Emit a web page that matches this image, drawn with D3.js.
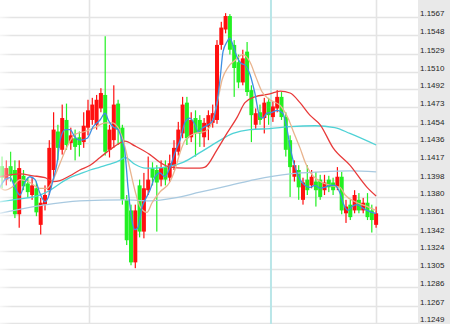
<!DOCTYPE html>
<html><head><meta charset="utf-8">
<script src="https://cdn.jsdelivr.net/npm/d3@7"></script>
<style>html,body{margin:0;padding:0;background:#fff;overflow:hidden}</style>
</head><body><svg id="c" width="450" height="324"></svg>
<script>
const open = [1.1412,1.1398,1.1412,1.1408,1.1362,1.1402,1.1394,1.1382,1.1389,1.1351,
1.1372,1.1387,1.1408,1.1448,1.1429,1.1460,1.1436,1.1441,1.1442,1.1437,
1.1452,1.1460,1.1455,1.1472,1.1486,1.1429,1.1439,1.1477,1.1452,1.1377,
1.1366,1.1312,1.1392,1.1344,1.1387,1.1410,1.1408,1.1398,1.1411,1.1400,
1.1412,1.1427,1.1446,1.1478,1.1442,1.1462,1.1460,1.1442,1.1453,1.1457,
1.1460,1.1538,1.1554,1.1568,1.1538,1.1520,1.1499,1.1531,1.1491,1.1455,
1.1468,1.1462,1.1479,1.1463,1.1472,1.1484,1.1463,1.1439,1.1401,1.1408,
1.1377,1.1398,1.1392,1.1396,1.1398,1.1387,1.1398,1.1395,1.1390,1.1401,
1.1363,1.1372,1.1366,1.1377,1.1366,1.1374,1.1366,1.1351];
const close = [1.1400,1.1410,1.1402,1.1362,1.1410,1.1391,1.1385,1.1392,1.1364,1.1374,
1.1382,1.1431,1.1450,1.1431,1.1462,1.1434,1.1444,1.1432,1.1434,1.1454,
1.1470,1.1476,1.1481,1.1488,1.1427,1.1450,1.1476,1.1450,1.1377,1.1335,
1.1312,1.1366,1.1344,1.1389,1.1398,1.1400,1.1395,1.1410,1.1398,1.1415,
1.1431,1.1450,1.1476,1.1441,1.1460,1.1446,1.1446,1.1457,1.1465,1.1467,
1.1538,1.1556,1.1568,1.1533,1.1514,1.1499,1.1524,1.1489,1.1465,1.1467,
1.1460,1.1478,1.1465,1.1474,1.1484,1.1463,1.1429,1.1411,1.1413,1.1390,
1.1395,1.1387,1.1401,1.1387,1.1380,1.1395,1.1390,1.1387,1.1401,1.1366,
1.1370,1.1359,1.1382,1.1366,1.1374,1.1359,1.1356,1.1363];
const high = [1.1422,1.1418,1.1427,1.1418,1.1418,1.1408,1.1400,1.1400,1.1396,1.1379,
1.1392,1.1439,1.1468,1.1455,1.1476,1.1477,1.1452,1.1450,1.1448,1.1468,
1.1481,1.1483,1.1486,1.1493,1.1547,1.1455,1.1496,1.1481,1.1455,1.1382,
1.1372,1.1372,1.1398,1.1405,1.1422,1.1416,1.1413,1.1418,1.1418,1.1424,
1.1439,1.1458,1.1484,1.1484,1.1468,1.1470,1.1465,1.1462,1.1470,1.1476,
1.1543,1.1562,1.1571,1.1570,1.1543,1.1528,1.1533,1.1541,1.1496,1.1472,
1.1476,1.1483,1.1483,1.1479,1.1491,1.1489,1.1468,1.1444,1.1418,1.1413,
1.1400,1.1413,1.1408,1.1406,1.1403,1.1403,1.1402,1.1400,1.1411,1.1406,
1.1377,1.1377,1.1387,1.1384,1.1379,1.1384,1.1372,1.1370];
const low = [1.1389,1.1392,1.1396,1.1358,1.1348,1.1387,1.1379,1.1377,1.1360,1.1341,
1.1366,1.1382,1.1398,1.1418,1.1424,1.1429,1.1429,1.1418,1.1422,1.1431,
1.1444,1.1455,1.1450,1.1468,1.1423,1.1421,1.1431,1.1434,1.1372,1.1330,
1.1309,1.1306,1.1338,1.1337,1.1382,1.1392,1.1344,1.1391,1.1392,1.1396,
1.1408,1.1423,1.1441,1.1434,1.1437,1.1422,1.1432,1.1432,1.1439,1.1452,
1.1456,1.1533,1.1550,1.1528,1.1484,1.1493,1.1496,1.1485,1.1437,1.1450,
1.1455,1.1446,1.1455,1.1458,1.1468,1.1460,1.1422,1.1380,1.1396,1.1377,
1.1372,1.1382,1.1389,1.1370,1.1377,1.1382,1.1385,1.1382,1.1387,1.1362,
1.1353,1.1356,1.1363,1.1363,1.1363,1.1356,1.1343,1.1348];

const tickLabels = ["1.1567","1.1548","1.1529","1.1510","1.1492","1.1473","1.1454","1.1436","1.1417",
"1.1398","1.1380","1.1361","1.1342","1.1324","1.1305","1.1286","1.1267","1.1249"];

// moving averages: [bar index, price]
const maSlow = [[-0.5,1.1363],[8.8,1.1371],[18.1,1.1376],[28.6,1.1377],[34.4,1.1376],[40.2,1.1379],[46.0,1.1385],
[53.0,1.1392],[58.8,1.1398],[67.0,1.1404],[74.0,1.1406],[80.9,1.1407],[87.0,1.1406]];
const maCyan = [[-0.5,1.1375],[4.2,1.1378],[8.8,1.1382],[11.2,1.1387],[13.5,1.1394],[15.8,1.1400],[18.1,1.1404],
[20.5,1.1408],[22.8,1.1411],[25.1,1.1414],[27.4,1.1418],[28.6,1.1421],[30.9,1.1414],[33.3,1.1410],[35.6,1.1410],
[39.1,1.1412],[42.1,1.1416],[46.0,1.1426],[50.0,1.1437],[53.7,1.1446],[57.7,1.1450],[62.3,1.1451],[67.0,1.1453],
[72.8,1.1454],[77.4,1.1452],[80.9,1.1446],[87.0,1.1434]];
const maRed = [[-0.5,1.1401],[1.9,1.1403],[4.2,1.1404],[7.2,1.1402],[10.0,1.1400],[11.9,1.1396],[13.5,1.1397],
[15.8,1.1402],[18.1,1.1408],[20.5,1.1413],[22.8,1.1421],[25.1,1.1429],[27.4,1.1436],[28.6,1.1438],[30.9,1.1433],
[34.4,1.1424],[36.7,1.1416],[39.1,1.1411],[42.6,1.1410],[46.0,1.1410],[47.2,1.1411],[50.0,1.1429],[52.3,1.1446],
[54.7,1.1463],[56.5,1.1478],[58.8,1.1484],[62.3,1.1487],[64.7,1.1490],[67.0,1.1488],[69.3,1.1478],[71.6,1.1465],
[74.0,1.1455],[77.0,1.1431],[80.9,1.1413],[84.9,1.1390],[87.0,1.1381]];
const maTan = [[-0.5,1.1390],[0.7,1.1387],[2.3,1.1390],[4.2,1.1398],[6.5,1.1395],[8.8,1.1389],[10.5,1.1389],
[11.9,1.1398],[13.5,1.1415],[15.1,1.1432],[17.0,1.1445],[19.3,1.1448],[21.6,1.1452],[24.0,1.1457],[25.6,1.1457],
[27.0,1.1452],[28.6,1.1432],[29.8,1.1408],[30.9,1.1387],[32.1,1.1370],[33.7,1.1364],[34.9,1.1374],[36.7,1.1385],
[39.1,1.1396],[40.2,1.1408],[41.4,1.1426],[42.6,1.1439],[44.9,1.1446],[47.2,1.1448],[48.8,1.1457],[50.2,1.1481],
[51.2,1.1502],[52.6,1.1515],[54.2,1.1522],[56.0,1.1528],[57.7,1.1520],[59.1,1.1504],[60.5,1.1489],[62.3,1.1481],
[64.7,1.1475],[66.5,1.1462],[68.1,1.1444],[69.3,1.1431],[70.5,1.1416],[71.6,1.1406],[74.0,1.1396],[76.3,1.1392],
[78.6,1.1390],[79.8,1.1382],[82.1,1.1375],[84.4,1.1371],[87.0,1.1366]];
const maFast = [[-0.5,1.1390],[0.7,1.1398],[1.9,1.1400],[3.0,1.1390],[4.2,1.1382],[5.3,1.1395],[6.5,1.1401],
[7.7,1.1398],[8.8,1.1384],[10.0,1.1375],[10.7,1.1379],[11.9,1.1398],[12.8,1.1415],[13.5,1.1439],[14.7,1.1450],
[15.8,1.1450],[17.0,1.1442],[18.1,1.1439],[19.8,1.1441],[21.2,1.1453],[22.8,1.1460],[24.0,1.1467],[24.7,1.1460],
[25.8,1.1453],[27.0,1.1450],[27.9,1.1439],[28.6,1.1426],[29.3,1.1390],[30.2,1.1356],[30.9,1.1346],[31.6,1.1348],
[32.6,1.1370],[33.3,1.1377],[34.4,1.1387],[35.6,1.1401],[36.7,1.1405],[37.9,1.1401],[39.1,1.1411],[40.2,1.1426],
[41.4,1.1439],[42.6,1.1458],[43.7,1.1462],[44.9,1.1455],[45.6,1.1448],[46.7,1.1452],[47.9,1.1455],[49.1,1.1460],
[50.0,1.1478],[50.7,1.1502],[51.4,1.1531],[52.3,1.1541],[53.0,1.1545],[53.7,1.1538],[54.7,1.1525],[55.6,1.1519],
[56.5,1.1517],[57.7,1.1507],[58.8,1.1488],[60.0,1.1463],[60.7,1.1462],[61.6,1.1467],[62.8,1.1468],[64.0,1.1470],
[65.3,1.1467],[66.3,1.1450],[67.0,1.1432],[67.7,1.1418],[68.6,1.1405],[69.3,1.1398],[70.5,1.1392],[71.6,1.1390],
[72.8,1.1392],[74.0,1.1389],[75.1,1.1390],[76.3,1.1392],[77.4,1.1392],[78.6,1.1384],[79.3,1.1374],[80.5,1.1366],
[81.4,1.1370],[82.6,1.1372],[83.7,1.1369],[84.9,1.1366],[86.0,1.1364],[87.0,1.1363]];

const vGridBars = [20.25, 87];
const markerBar = 62.55;

const W = 450, H = 324, plotR = 418;
const svg = d3.select("#c");
const x = d3.scaleLinear().domain([0, 87]).range([2, 376.1]);
const y = d3.scaleLinear().domain([1.1249, 1.1567]).range([323, 17]);

svg.append("rect").attr("width", W).attr("height", H).attr("fill", "#fff");
svg.append("clipPath").attr("id", "clip").append("rect").attr("width", plotR).attr("height", H);
const g = svg.append("g").attr("clip-path", "url(#clip)");

// grid
g.selectAll("line.h").data(tickLabels).enter().append("line")
  .attr("x1", 0).attr("x2", plotR)
  .attr("y1", d => Math.round(y(+d)) + 0.5).attr("y2", d => Math.round(y(+d)) + 0.5)
  .attr("stroke", "#e4e4e4").attr("stroke-width", 1.6);
g.selectAll("line.v").data(vGridBars).enter().append("line")
  .attr("x1", d => Math.round(x(d)) + 0.5).attr("x2", d => Math.round(x(d)) + 0.5)
  .attr("y1", 0).attr("y2", H).attr("stroke", "#e4e4e4").attr("stroke-width", 1.6);
g.append("line").attr("x1", x(markerBar)).attr("x2", x(markerBar)).attr("y1", 0).attr("y2", H)
  .attr("stroke", "#b9e6e8").attr("stroke-width", 2);

// candles
const idx = d3.range(open.length);
const up = i => close[i] >= open[i];
const colUp = "#ff1010", colDn = "#22f022";
g.selectAll("rect.w").data(idx).enter().append("rect")
  .attr("x", i => x(i) - 0.6).attr("width", 1.2)
  .attr("y", i => y(high[i])).attr("height", i => y(low[i]) - y(high[i]))
  .attr("fill", i => up(i) ? colUp : colDn);
g.selectAll("rect.b").data(idx).enter().append("rect")
  .attr("x", i => x(i) - 2).attr("width", 4)
  .attr("y", i => y(Math.max(open[i], close[i])))
  .attr("height", i => Math.max(1.5, Math.abs(y(open[i]) - y(close[i]))))
  .attr("fill", i => up(i) ? colUp : colDn);

// moving averages
const line = d3.line().x(d => x(d[0])).y(d => y(d[1])).curve(d3.curveMonotoneX);
const mas = [[maSlow, "#a8c9e0"], [maCyan, "#4fd2d6"], [maRed, "#e83a3a"], [maTan, "#e9b48e"], [maFast, "#3d8fe3"]];
mas.forEach(([d, c]) => g.append("path").attr("d", line(d)).attr("fill", "none")
  .attr("stroke", c).attr("stroke-width", 1.3));

// left fade
const defs = svg.append("defs");
const lg = defs.append("linearGradient").attr("id", "fade");
lg.append("stop").attr("offset", 0).attr("stop-color", "#fff").attr("stop-opacity", 0.7);
lg.append("stop").attr("offset", 1).attr("stop-color", "#fff").attr("stop-opacity", 0);
svg.append("rect").attr("x", 0).attr("y", 0).attr("width", 12).attr("height", H).attr("fill", "url(#fade)");

// price axis panel
svg.append("rect").attr("x", plotR).attr("y", 0).attr("width", W - plotR).attr("height", H).attr("fill", "#e9e9e9");
svg.selectAll("text.t").data(tickLabels).enter().append("text")
  .attr("x", 420).attr("y", d => Math.round(y(+d)) - 1.2)
  .attr("font-family", "'Liberation Sans', Arial, sans-serif").attr("font-size", 8)
  .attr("fill", "#262626").text(d => d);
</script>
</body></html>
